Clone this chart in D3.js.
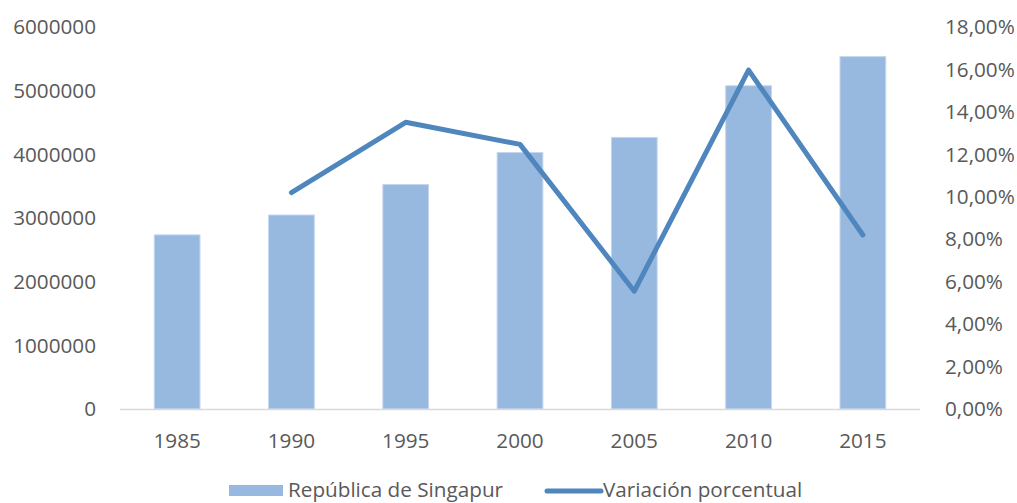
<!DOCTYPE html>
<html>
<head>
<meta charset="utf-8">
<script src="https://cdn.jsdelivr.net/npm/d3@7"></script>
<style>
  body { margin: 0; background: #fff; }
  svg text { font-family: "Open Sans", "Noto Sans", sans-serif; fill: #595959; }
</style>
</head>
<body>
<div id="chart"></div>
<script>
// data
const years = ['1985', '1990', '1995', '2000', '2005', '2010', '2015'];
const population = [2735000, 3047000, 3525000, 4028000, 4266000, 5077000, 5535000];
const variation = [null, 0.1020, 0.1351, 0.1247, 0.0555, 0.1597, 0.0820];
const leftTicks = [0, 1000000, 2000000, 3000000, 4000000, 5000000, 6000000];
const rightTicks = [0, 0.02, 0.04, 0.06, 0.08, 0.10, 0.12, 0.14, 0.16, 0.18];

const width = 1017, height = 503;
const margin = { top: 27, right: 97, bottom: 94, left: 120 };
const plotW = width - margin.left - margin.right;
const plotH = height - margin.top - margin.bottom;
const fontSize = 20.7;

const svg = d3.select('#chart')
  .append('svg')
  .attr('width', width)
  .attr('height', height);

const g = svg.append('g')
  .attr('transform', `translate(${margin.left},${margin.top})`);

// scales
const x = d3.scaleBand()
  .domain(years)
  .range([0, plotW])
  .paddingInner(0.6)
  .paddingOuter(0.3);

const y = d3.scaleLinear().domain([0, 6000000]).range([plotH, 0]);
const y2 = d3.scaleLinear().domain([0, 0.18]).range([plotH, 0]);

// bars
g.selectAll('rect.bar')
  .data(population)
  .enter()
  .append('rect')
  .attr('class', 'bar')
  .attr('x', (d, i) => x(years[i]))
  .attr('y', d => y(d))
  .attr('width', x.bandwidth())
  .attr('height', d => plotH - y(d))
  .attr('fill', '#98b9df')
  .attr('stroke', '#c4d6ee')
  .attr('stroke-width', 1);

// category axis line
g.append('line')
  .attr('x1', 0).attr('x2', plotW)
  .attr('y1', plotH + 0.5).attr('y2', plotH + 0.5)
  .attr('stroke', '#d9d9d9')
  .attr('stroke-width', 1.5);

// left axis
const fmtInt = d3.format('d');
g.selectAll('text.ly')
  .data(leftTicks)
  .enter()
  .append('text')
  .attr('x', -24)
  .attr('y', d => y(d))
  .attr('dy', '0.35em')
  .attr('text-anchor', 'end')
  .attr('font-size', fontSize)
  .text(d => fmtInt(d));

// right axis
const fmtPct = d => (d * 100).toFixed(2).replace('.', ',') + '%';
g.selectAll('text.ry')
  .data(rightTicks)
  .enter()
  .append('text')
  .attr('x', plotW + 25)
  .attr('y', d => y2(d))
  .attr('dy', '0.35em')
  .attr('text-anchor', 'start')
  .attr('font-size', fontSize)
  .text(d => fmtPct(d));

// x labels
g.selectAll('text.xl')
  .data(years)
  .enter()
  .append('text')
  .attr('x', d => x(d) + x.bandwidth() / 2)
  .attr('y', plotH + 32)
  .attr('dy', '0.35em')
  .attr('text-anchor', 'middle')
  .attr('font-size', fontSize)
  .text(d => d);

// line
const line = d3.line()
  .defined(d => d != null)
  .x((d, i) => x(years[i]) + x.bandwidth() / 2)
  .y(d => y2(d));

g.append('path')
  .datum(variation)
  .attr('fill', 'none')
  .attr('stroke', '#4f86bd')
  .attr('stroke-width', 5)
  .attr('stroke-linecap', 'round')
  .attr('stroke-linejoin', 'round')
  .attr('d', line);

// legend (nudged up a little so descenders stay inside the picture)
const lg = svg.append('g').attr('transform', 'translate(0,489)');
lg.append('rect')
  .attr('x', 229).attr('y', -4)
  .attr('width', 54).attr('height', 11)
  .attr('fill', '#98b9df');
lg.append('text')
  .attr('x', 288).attr('y', 1).attr('dy', '0.35em')
  .attr('font-size', fontSize)
  .text('República de Singapur');
lg.append('line')
  .attr('x1', 547).attr('x2', 601)
  .attr('y1', 2).attr('y2', 2)
  .attr('stroke', '#4f86bd')
  .attr('stroke-width', 5)
  .attr('stroke-linecap', 'round');
lg.append('text')
  .attr('x', 603).attr('y', 1).attr('dy', '0.35em')
  .attr('font-size', fontSize)
  .text('Variación porcentual');
</script>
</body>
</html>
